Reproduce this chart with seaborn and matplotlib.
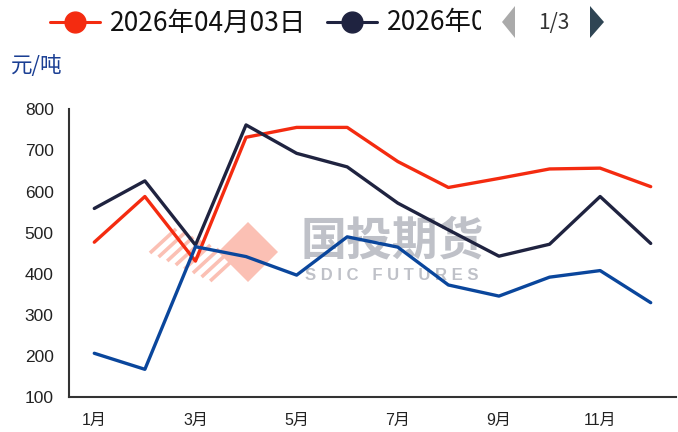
import numpy as np
import pandas as pd
import seaborn as sns
import matplotlib.pyplot as plt
import matplotlib.transforms as mtransforms
from matplotlib.patches import Polygon

# data
months = list(range(1, 13))
month_labels = [f"{m}月" for m in months]
series_names = ["2026年04月03日", "2026年03月27日", "2026年03月20日"]
price_a = [477, 588, 431, 732, 756, 756, 673, 610, 632, 655, 657, 612]
price_b = [559, 626, 470, 762, 693, 660, 572, 507, 443, 472, 588, 474]
price_c = [207, 168, 466, 442, 397, 490, 465, 373, 346, 392, 408, 330]
colors = ["#F42B10", "#1F2340", "#0A469C"]
y_ticks = [100, 200, 300, 400, 500, 600, 700, 800]

df = pd.DataFrame({
    "month": months * 3,
    "price": price_a + price_b + price_c,
    "series": [series_names[0]] * 12 + [series_names[1]] * 12 + [series_names[2]] * 12,
})

sns.set_style("white")
plt.rcParams["font.family"] = ["Liberation Sans", "Noto Sans CJK SC", "DejaVu Sans"]

W, H = 678, 432
fig = plt.figure(figsize=(W / 100, H / 100), dpi=100)

# overlay axes in pixel units for watermark / legend
ov = fig.add_axes([0, 0, 1, 1], zorder=0)
ov.set_xlim(0, W)
ov.set_ylim(H, 0)
ov.axis("off")

ax = fig.add_axes([69 / W, 1 - 397.3 / H, 607 / W, (397.3 - 109.3) / H], zorder=1)
ax.patch.set_alpha(0)

sns.lineplot(data=df, x="month", y="price", hue="series", palette=colors,
             linewidth=2.4, sort=False, legend=False, ax=ax)

ax.set_xlim(0.5, 12.5)
ax.set_ylim(100, 800)
ax.set_yticks(y_ticks)
ax.set_xticks([0.5, 2.5, 4.5, 6.5, 8.5, 10.5])
ax.set_xticklabels([])
ax.set_xticks(months[::2], minor=True)
ax.set_xticklabels(month_labels[::2], minor=True)
ax.set_xlabel("")
ax.set_ylabel("")
sns.despine(ax=ax)
for s in ["left", "bottom"]:
    ax.spines[s].set_color("#333333")
    ax.spines[s].set_linewidth(1.5)
ax.tick_params(axis="y", which="major", length=7, width=1.5, color="#333333",
               labelsize=12.5, labelcolor="#222222", pad=4)
ax.tick_params(axis="x", which="major", length=6, width=1.5, color="#333333")
ax.tick_params(axis="x", which="minor", length=0, pad=11, labelsize=11.5,
               labelcolor="#222222")

# watermark
wm_gray = "#BFC1C8"
ov.add_patch(Polygon([(218, 252), (248, 222), (278, 252), (248, 282)],
                     closed=True, color="#FBC0B4", lw=0))
for k in range(8):
    x0 = 150 + k * 8.6
    y0 = 253 + k * 4.0
    ov.plot([x0, x0 + 26], [y0, y0 - 24], color="#FBC0B4", lw=2.6,
            solid_capstyle="butt")
ov.text(392, 242, "国投期货", fontsize=33, color=wm_gray, fontweight="bold",
        family=["Noto Sans CJK SC"], ha="center", va="center")
ov.text(392, 276, "S D I C   F U T U R E S", fontsize=12, color=wm_gray,
        fontweight="bold", ha="center", va="center")

# legend (paged, second entry cut off)
leg_font = ["Liberation Sans Narrow", "Noto Sans CJK SC", "DejaVu Sans"]
ov.plot([50, 100], [22, 22], color=colors[0], lw=2.2)
ov.plot([75], [22], "o", color=colors[0], ms=15)
ov.text(110, 23, series_names[0], fontsize=19, family=leg_font,
        color="#111111", ha="left", va="center")
ov.plot([327, 377], [22, 22], color=colors[1], lw=2.2)
ov.plot([352], [22], "o", color=colors[1], ms=15)
t2 = ov.text(387, 23, series_names[1][:6], fontsize=19, family=leg_font,
             color="#111111", ha="left", va="center", clip_on=True)
t2.set_clip_box(mtransforms.TransformedBbox(
    mtransforms.Bbox([[380, 0], [481, 45]]), ov.transData))
ov.add_patch(Polygon([(515, 6), (515, 38), (502, 22)], closed=True,
                     color="#AAAAAA", lw=0))
ov.text(554, 23, "1/3", fontsize=15, family=leg_font, color="#333333",
        ha="center", va="center")
ov.add_patch(Polygon([(590, 6), (590, 38), (604, 22)], closed=True,
                     color="#2F4554", lw=0))

# unit label
ov.text(11, 66, "元/吨", fontsize=15.5, color="#1A3E93",
        family=["Noto Sans CJK SC"], ha="left", va="center")

fig.savefig("out.png", dpi=100)
